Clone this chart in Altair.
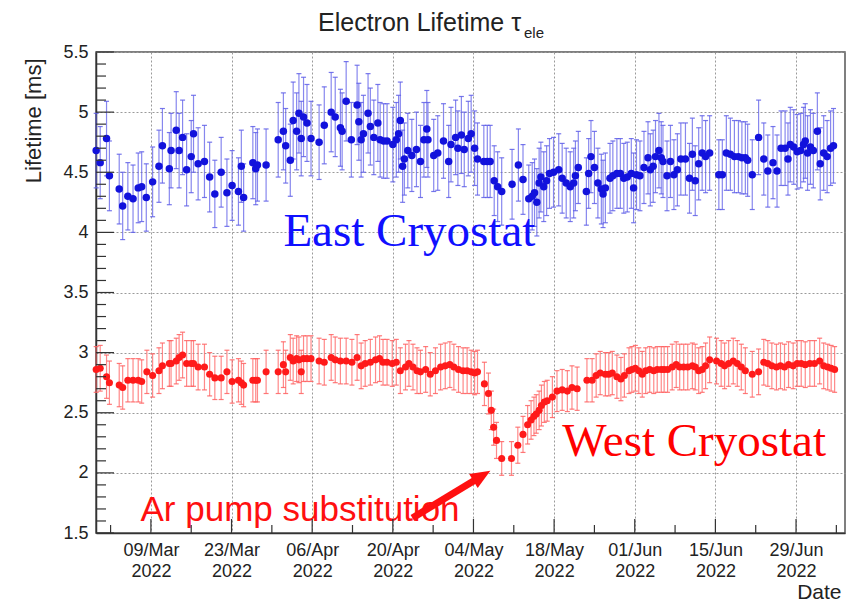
import altair as alt
import pandas as pd

# ---- data (days since 2022-03-01 UTC, lifetime in ms, error in ms) ----
east_day = [
    -1.5, -0.8, 0.3, 0.8, 2.5, 3.1, 4.0, 4.9, 5.8, 6.4,
    7.2, 8.3, 9.4, 10.0, 11.2, 11.5, 12.4, 12.9, 13.5, 14.2,
    15.0, 15.4, 16.2, 17.3, 18.2, 19.1, 20.2, 21.2, 22.1, 23.2,
    23.7, 24.1, 25.7, 26.2, 26.5, 28.0, 30.1, 31.0, 31.4, 32.2,
    32.7, 33.3, 33.7, 34.1, 34.5, 35.1, 35.8, 37.2, 38.1, 39.3,
    40.0, 40.9, 41.2, 41.9, 42.8, 43.8, 44.1, 44.5, 44.9, 45.7,
    46.1, 46.7, 47.4, 47.8, 48.4, 49.0, 50.0, 50.6, 51.0, 51.3,
    51.7, 52.0, 52.6, 53.3, 54.1, 54.8, 55.4, 55.9, 56.1, 57.1,
    57.8, 58.8, 59.7, 60.1, 60.9, 61.3, 61.9, 62.4, 63.1, 63.6,
    64.2, 64.7, 65.8, 66.4, 66.9, 67.6, 68.2, 68.9, 70.7, 71.8,
    72.6, 73.6, 74.2, 74.6, 75.0, 75.4, 75.7, 76.2, 76.7, 77.2,
    77.9, 78.8, 79.4, 80.1, 80.8, 81.4, 81.7, 82.2, 83.6, 84.0,
    84.4, 85.0, 85.6, 86.2, 86.5, 86.9, 87.7, 88.2, 88.9, 89.5,
    90.1, 90.7, 91.4, 91.8, 92.3, 92.9, 93.6, 94.3, 94.7, 95.2,
    95.6, 96.2, 96.6, 96.9, 97.6, 98.2, 98.8, 99.4, 100.0, 100.8,
    101.5, 102.0, 102.5, 103.1, 103.7, 104.3, 105.0, 106.6, 107.2, 107.9,
    108.6, 109.3, 110.0, 110.6, 111.2, 111.6, 112.4, 113.5, 114.4, 115.1,
    116.0, 116.7, 117.4, 118.1, 118.6, 119.0, 119.6, 120.2, 120.8, 121.3,
    121.6, 122.0, 122.5, 123.0, 123.7, 124.2, 124.8, 125.4, 126.0, 126.5,
]
east_val = [
    4.68, 4.58, 4.78, 4.47, 4.36, 4.22, 4.30, 4.28, 4.37, 4.38,
    4.29, 4.42, 4.55, 4.72, 4.53, 4.68, 4.85, 4.68, 4.79, 4.52,
    4.63, 4.82, 4.57, 4.59, 4.46, 4.32, 4.50, 4.33, 4.39, 4.34,
    4.55, 4.29, 4.58, 4.53, 4.56, 4.56, 4.77, 4.84, 4.72, 4.60,
    4.93, 4.84, 4.99, 4.78, 4.96, 4.91, 4.78, 4.75, 4.89, 5.00,
    4.96, 4.87, 4.84, 5.09, 4.77, 5.06, 4.92, 4.77, 4.82, 4.99,
    4.88, 4.79, 4.91, 4.77, 4.76, 4.76, 4.73, 4.77, 4.82, 4.93,
    4.55, 4.61, 4.68, 4.64, 4.69, 4.59, 4.77, 4.86, 4.77, 4.64,
    4.66, 4.76, 4.59, 4.73, 4.79, 4.70, 4.81, 4.69, 4.78, 4.82,
    4.70, 4.61, 4.59, 4.59, 4.59, 4.43, 4.38, 4.34, 4.40, 4.56,
    4.44, 4.28, 4.30, 4.33, 4.25, 4.41, 4.46, 4.38, 4.43, 4.49,
    4.50, 4.52, 4.45, 4.41, 4.38, 4.41, 4.47, 4.54, 4.34, 4.49,
    4.63, 4.54, 4.41, 4.36, 4.32, 4.37, 4.45, 4.47, 4.49, 4.49,
    4.45, 4.46, 4.49, 4.37, 4.48, 4.47, 4.54, 4.62, 4.52, 4.55,
    4.63, 4.68, 4.62, 4.59, 4.47, 4.59, 4.48, 4.52, 4.61, 4.61,
    4.45, 4.65, 4.43, 4.57, 4.66, 4.63, 4.66, 4.48, 4.48, 4.66,
    4.65, 4.63, 4.63, 4.62, 4.62, 4.60, 4.48, 4.79, 4.61, 4.51,
    4.58, 4.51, 4.70, 4.70, 4.61, 4.73, 4.71, 4.67, 4.68, 4.73,
    4.76, 4.66, 4.71, 4.68, 4.84, 4.57, 4.66, 4.63, 4.70, 4.72,
]
east_err = [
    0.31, 0.30, 0.31, 0.29, 0.29, 0.28, 0.28, 0.28, 0.29, 0.29,
    0.28, 0.29, 0.30, 0.31, 0.30, 0.31, 0.32, 0.31, 0.31, 0.30,
    0.30, 0.32, 0.30, 0.30, 0.29, 0.28, 0.29, 0.28, 0.29, 0.28,
    0.30, 0.28, 0.30, 0.30, 0.30, 0.30, 0.31, 0.32, 0.31, 0.30,
    0.32, 0.32, 0.33, 0.31, 0.33, 0.32, 0.31, 0.31, 0.32, 0.33,
    0.33, 0.32, 0.32, 0.33, 0.31, 0.33, 0.32, 0.31, 0.32, 0.33,
    0.32, 0.31, 0.32, 0.31, 0.31, 0.31, 0.31, 0.31, 0.32, 0.32,
    0.30, 0.30, 0.31, 0.30, 0.31, 0.30, 0.31, 0.32, 0.31, 0.30,
    0.31, 0.31, 0.30, 0.31, 0.31, 0.31, 0.32, 0.31, 0.31, 0.32,
    0.31, 0.30, 0.30, 0.30, 0.30, 0.29, 0.29, 0.28, 0.29, 0.30,
    0.29, 0.28, 0.28, 0.28, 0.28, 0.29, 0.29, 0.29, 0.29, 0.29,
    0.29, 0.30, 0.29, 0.29, 0.29, 0.29, 0.29, 0.30, 0.28, 0.29,
    0.30, 0.30, 0.29, 0.29, 0.28, 0.29, 0.29, 0.29, 0.29, 0.29,
    0.29, 0.29, 0.29, 0.29, 0.29, 0.29, 0.30, 0.30, 0.30, 0.30,
    0.30, 0.31, 0.30, 0.30, 0.29, 0.30, 0.29, 0.30, 0.30, 0.30,
    0.29, 0.30, 0.29, 0.30, 0.31, 0.30, 0.31, 0.29, 0.29, 0.31,
    0.30, 0.30, 0.30, 0.30, 0.30, 0.30, 0.29, 0.31, 0.30, 0.30,
    0.30, 0.30, 0.31, 0.31, 0.30, 0.31, 0.31, 0.31, 0.31, 0.31,
    0.31, 0.31, 0.31, 0.31, 0.32, 0.30, 0.31, 0.30, 0.31, 0.31,
]

west_day = [
    -1.5, -0.8, 0.3, 0.8, 2.5, 3.1, 4.0, 4.9, 5.8, 6.4,
    7.3, 8.3, 9.4, 10.0, 11.2, 11.5, 12.4, 12.9, 13.5, 14.2,
    15.0, 15.4, 16.2, 17.3, 18.2, 19.1, 20.2, 21.2, 22.1, 23.2,
    23.7, 24.1, 25.7, 26.2, 26.5, 28.0, 30.1, 31.0, 31.4, 32.2,
    32.7, 33.3, 33.7, 34.1, 34.5, 35.1, 35.8, 37.2, 38.1, 39.3,
    40.0, 40.9, 41.9, 42.9, 43.8, 44.5, 45.2, 46.1, 47.0, 47.7,
    48.3, 49.0, 49.9, 50.6, 51.3, 52.2, 52.8, 53.5, 54.2, 54.8,
    55.7, 56.5, 57.4, 58.3, 59.1, 59.9, 60.6, 61.4, 62.2, 62.9,
    63.6, 64.2, 64.7, 65.9, 66.6, 67.1, 67.5, 68.0, 68.9, 70.6,
    71.7, 72.6, 73.4, 74.0, 74.5, 74.9, 75.4, 75.8, 76.3, 76.8,
    77.7, 78.5, 79.4, 80.3, 81.1, 82.0, 83.7, 84.6, 85.3, 86.0,
    86.9, 87.5, 88.1, 88.9, 89.6, 90.2, 91.0, 91.5, 92.1, 92.7,
    93.3, 93.9, 94.6, 95.3, 95.9, 96.6, 97.1, 97.7, 98.5, 99.2,
    99.8, 100.5, 101.2, 102.0, 102.5, 103.1, 103.7, 104.3, 105.0, 106.2,
    107.0, 107.6, 108.3, 109.1, 109.8, 110.5, 111.2, 112.4, 113.5, 114.4,
    115.1, 115.8, 116.6, 117.3, 118.0, 118.7, 119.5, 120.2, 120.9, 121.6,
    122.4, 123.2, 124.1, 124.8, 125.5, 126.1, 126.7,
]
west_val = [
    2.86, 2.87, 2.80, 2.75, 2.73, 2.71, 2.77, 2.77, 2.77, 2.76,
    2.84, 2.81, 2.85, 2.89, 2.91, 2.91, 2.93, 2.96, 2.98, 2.91,
    2.91, 2.91, 2.88, 2.88, 2.82, 2.79, 2.79, 2.84, 2.76, 2.77,
    2.75, 2.73, 2.77, 2.77, 2.77, 2.84, 2.84, 2.90, 2.84, 2.96,
    2.93, 2.95, 2.94, 2.84, 2.95, 2.95, 2.95, 2.93, 2.92, 2.96,
    2.94, 2.93, 2.93, 2.92, 2.96, 2.89, 2.91, 2.92, 2.94, 2.95,
    2.92, 2.92, 2.91, 2.92, 2.85, 2.88, 2.91, 2.88, 2.85, 2.84,
    2.86, 2.82, 2.85, 2.88, 2.89, 2.90, 2.88, 2.86, 2.85, 2.85,
    2.84, 2.83, 2.84, 2.74, 2.66, 2.52, 2.38, 2.27, 2.12, 2.12,
    2.23, 2.32, 2.40, 2.44, 2.47, 2.49, 2.52, 2.56, 2.59, 2.60,
    2.63, 2.68, 2.69, 2.68, 2.71, 2.70, 2.77, 2.77, 2.81, 2.83,
    2.82, 2.82, 2.83, 2.80, 2.78, 2.81, 2.85, 2.86, 2.87, 2.85,
    2.82, 2.85, 2.86, 2.85, 2.86, 2.86, 2.86, 2.86, 2.88, 2.90,
    2.88, 2.88, 2.88, 2.89, 2.88, 2.85, 2.86, 2.89, 2.94, 2.93,
    2.91, 2.89, 2.91, 2.93, 2.91, 2.88, 2.85, 2.82, 2.84, 2.92,
    2.91, 2.89, 2.88, 2.89, 2.88, 2.90, 2.89, 2.91, 2.91, 2.90,
    2.91, 2.91, 2.93, 2.89, 2.88, 2.87, 2.86,
]
west_err = [
    0.19, 0.19, 0.18, 0.18, 0.18, 0.18, 0.18, 0.18, 0.18, 0.18,
    0.18, 0.18, 0.19, 0.19, 0.19, 0.19, 0.19, 0.19, 0.19, 0.19,
    0.19, 0.19, 0.19, 0.19, 0.18, 0.18, 0.18, 0.18, 0.18, 0.18,
    0.18, 0.18, 0.18, 0.18, 0.18, 0.18, 0.18, 0.19, 0.18, 0.19,
    0.19, 0.19, 0.19, 0.18, 0.19, 0.19, 0.19, 0.19, 0.19, 0.19,
    0.19, 0.19, 0.19, 0.19, 0.19, 0.19, 0.19, 0.19, 0.19, 0.19,
    0.19, 0.19, 0.19, 0.19, 0.19, 0.19, 0.19, 0.19, 0.19, 0.18,
    0.19, 0.18, 0.19, 0.19, 0.19, 0.19, 0.19, 0.19, 0.19, 0.19,
    0.18, 0.18, 0.18, 0.18, 0.17, 0.16, 0.15, 0.15, 0.14, 0.14,
    0.15, 0.15, 0.16, 0.16, 0.16, 0.16, 0.16, 0.17, 0.17, 0.17,
    0.17, 0.17, 0.17, 0.17, 0.18, 0.18, 0.18, 0.18, 0.18, 0.18,
    0.18, 0.18, 0.18, 0.18, 0.18, 0.18, 0.19, 0.19, 0.19, 0.19,
    0.19, 0.19, 0.19, 0.19, 0.19, 0.19, 0.19, 0.19, 0.19, 0.19,
    0.19, 0.19, 0.19, 0.19, 0.19, 0.19, 0.19, 0.19, 0.19, 0.19,
    0.19, 0.19, 0.19, 0.19, 0.19, 0.19, 0.19, 0.19, 0.19, 0.19,
    0.19, 0.19, 0.19, 0.19, 0.19, 0.19, 0.19, 0.19, 0.19, 0.19,
    0.19, 0.19, 0.19, 0.19, 0.19, 0.19, 0.19,
]

# axis ticks (days since 2022-03-01) and value ticks
x_major_day = [8, 22, 36, 50, 64, 78, 92, 106, 120]
x_minor_day = [1, 15, 29, 43, 57, 71, 85, 99, 113, 127]
x_domain_day = [-1.53, 128.5]
y_major = [1.5, 2.0, 2.5, 3.0, 3.5, 4.0, 4.5, 5.0, 5.5]
y_minor = [1.6, 1.7, 1.8, 1.9, 2.1, 2.2, 2.3, 2.4, 2.6, 2.7, 2.8, 2.9,
           3.1, 3.2, 3.3, 3.4, 3.6, 3.7, 3.8, 3.9, 4.1, 4.2, 4.3, 4.4,
           4.6, 4.7, 4.8, 4.9, 5.1, 5.2, 5.3, 5.4]

# annotations (day, value, text)
labels_day = [31.0, 79.4, 6.2]
labels_val = [3.89, 2.14, 1.60]
labels_txt = ["East Cryostat", "West Cryostat", "Ar pump substitution"]
arrow_day = [53.4, 65.3]
arrow_val = [1.625, 1.97]

BASE_MS = 1646092800000  # 2022-03-01T00:00:00Z
DAY_MS = 86400000


def to_ms(d):
    return BASE_MS + d * DAY_MS


assert len(east_day) == len(east_val) == len(east_err)
assert len(west_day) == len(west_val) == len(west_err)

east = pd.DataFrame({"t": [to_ms(d) for d in east_day], "v": east_val,
                     "lo": [v - e for v, e in zip(east_val, east_err)],
                     "hi": [v + e for v, e in zip(east_val, east_err)]})
west = pd.DataFrame({"t": [to_ms(d) for d in west_day], "v": west_val,
                     "lo": [v - e for v, e in zip(west_val, west_err)],
                     "hi": [v + e for v, e in zip(west_val, west_err)]})

W, H = 749, 481
xdom = [to_ms(d) for d in x_domain_day]
xscale = alt.Scale(type="utc", domain=xdom, nice=False)
yscale = alt.Scale(domain=[1.5, 5.5], nice=False, zero=False)

FONT = "Liberation Sans"

xaxis = alt.Axis(
    values=[to_ms(d) for d in x_major_day],
    labelExpr="[utcFormat(datum.value, '%d/%b'), utcFormat(datum.value, '%Y')]",
    labelFontSize=18, labelFont=FONT, labelColor="#222222", labelPadding=8,
    labelLineHeight=21, labelFlush=False, labelOverlap=False,
    ticks=False, domain=True, domainColor="#333333", domainWidth=1.5,
    grid=True, gridDash=[2, 2], gridColor="#9a9a9a", gridWidth=1,
    title="Date", titleFont=FONT, titleFontSize=21, titleFontWeight="normal",
    titleColor="#222222", titleAnchor="end", titleAlign="right",
    titleX=W - 4, titleY=65, titleBaseline="alphabetic",
)
yaxis = alt.Axis(
    values=y_major, format="~g",
    labelFontSize=18, labelFont=FONT, labelColor="#222222", labelPadding=8,
    ticks=False, domain=True, domainColor="#333333", domainWidth=1.5,
    grid=True, gridDash=[2, 2], gridColor="#9a9a9a", gridWidth=1,
    title="Lifetime [ms]", titleFont=FONT, titleFontSize=22,
    titleFontWeight="normal", titleColor="#222222",
    titleAngle=270, titleX=-56, titleY=6, titleAlign="right",
    titleBaseline="alphabetic",
)


def XF(field="t"):
    return alt.X(f"{field}:T", scale=xscale, axis=xaxis)


def YF(field="v"):
    return alt.Y(f"{field}:Q", scale=yscale, axis=yaxis)


def series(df, bar_color, pt_color, pt_size):
    base = alt.Chart(df)
    bars = base.mark_rule(color=bar_color, strokeWidth=1.2, opacity=0.75).encode(
        x=XF(), y=YF("lo"), y2="hi:Q")
    cap_hi = base.mark_tick(color=bar_color, size=5, thickness=1.2, opacity=0.85).encode(
        x=XF(), y=YF("hi"))
    cap_lo = base.mark_tick(color=bar_color, size=5, thickness=1.2, opacity=0.85).encode(
        x=XF(), y=YF("lo"))
    pts = base.mark_circle(color=pt_color, size=pt_size, opacity=1).encode(x=XF(), y=YF())
    return [bars, cap_hi, cap_lo, pts]


east_layers = series(east, "#5f5fe8", "#1212dc", 56)
west_layers = series(west, "#ff6262", "#ff1a1a", 50)

ann = pd.DataFrame({"t": [to_ms(d) for d in labels_day], "v": labels_val,
                    "txt": labels_txt})
east_txt = alt.Chart(ann.iloc[[0]]).mark_text(
    align="left", baseline="alphabetic", font="Liberation Serif", fontSize=47,
    color="#1010ff").encode(x=XF(), y=YF(), text="txt:N")
west_txt = alt.Chart(ann.iloc[[1]]).mark_text(
    align="left", baseline="alphabetic", font="Liberation Serif", fontSize=47,
    color="#ff0000").encode(x=XF(), y=YF(), text="txt:N")
pump_txt = alt.Chart(ann.iloc[[2]]).mark_text(
    align="left", baseline="alphabetic", font=FONT, fontSize=35,
    color="#ff1010").encode(x=XF(), y=YF(), text="txt:N")

arr = pd.DataFrame({"t": [to_ms(d) for d in arrow_day], "v": arrow_val})
arrow_line = alt.Chart(arr).mark_line(color="#ff1010", strokeWidth=7,
                                      strokeCap="butt").encode(x=XF(), y=YF())
arrow_head = alt.Chart(arr.iloc[[1]]).mark_point(
    shape="M0,-1L0.75,0.8L-0.75,0.8Z", filled=True, size=480, angle=59,
    color="#ff1010", opacity=1).encode(x=XF(), y=YF())

xmaj = pd.DataFrame({"t": [to_ms(d) for d in x_major_day]})
xmin = pd.DataFrame({"t": [to_ms(d) for d in x_minor_day]})
ymaj = pd.DataFrame({"v": y_major})
ymin = pd.DataFrame({"v": y_minor})
tick_c = "#333333"
xmaj_t = alt.Chart(xmaj).mark_rule(color=tick_c, strokeWidth=1.2).encode(
    x=XF(), y=alt.value(H), y2=alt.value(H - 14))
xmin_t = alt.Chart(xmin).mark_rule(color=tick_c, strokeWidth=1.2).encode(
    x=XF(), y=alt.value(H), y2=alt.value(H - 8))
ymaj_t = alt.Chart(ymaj).mark_rule(color=tick_c, strokeWidth=1.2).encode(
    y=YF(), x=alt.value(0), x2=alt.value(18))
ymin_t = alt.Chart(ymin).mark_rule(color=tick_c, strokeWidth=1.2).encode(
    y=YF(), x=alt.value(0), x2=alt.value(10))

title_df = pd.DataFrame({"a": [0]})
title_main = alt.Chart(title_df).mark_text(
    align="left", baseline="alphabetic", font=FONT, fontSize=25,
    color="#222222").encode(x=alt.value(222), y=alt.value(-21),
                            text=alt.value("Electron Lifetime τ"))
title_sub = alt.Chart(title_df).mark_text(
    align="left", baseline="alphabetic", font=FONT, fontSize=15,
    color="#222222").encode(x=alt.value(428), y=alt.value(-14),
                            text=alt.value("ele"))

chart = alt.layer(
    *east_layers, *west_layers,
    east_txt, west_txt, pump_txt, arrow_line, arrow_head,
    xmaj_t, xmin_t, ymaj_t, ymin_t, title_main, title_sub,
).properties(
    width=W, height=H,
    padding={"left": 96, "top": 52, "right": 7, "bottom": 70},
    autosize=alt.AutoSizeParams(type="none"),
    background="white",
).configure_view(stroke="#555555", strokeWidth=1.5)

chart.save("out.html", embed_options={"renderer": "svg", "actions": False})
